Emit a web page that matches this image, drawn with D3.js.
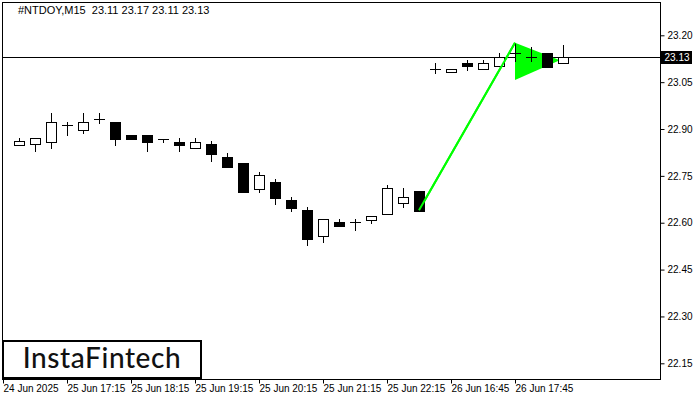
<!DOCTYPE html>
<html><head><meta charset="utf-8">
<script src="https://cdn.jsdelivr.net/npm/d3@7"></script>
<style>body{margin:0;background:#fff}svg{display:block}</style>
</head><body>
<svg id="c" width="700" height="400"></svg>
<script>
const title = "#NTDOY,M15  23.11 23.17 23.11 23.13";
const opens  = [22.85,22.851,22.86,22.913,22.898,22.931,22.922,22.881,22.881,22.869,22.86,22.84,22.852,22.81,22.791,22.709,22.73,22.673,22.641,22.559,22.603,22.603,22.61,22.629,22.662,22.702,23.092,23.082,23.111,23.091,23.102,23.143,23.13,23.143,23.11];
const highs  = [22.871,22.871,22.951,22.922,22.951,22.951,22.922,22.881,22.881,22.869,22.871,22.871,22.861,22.823,22.791,22.762,22.74,22.682,22.651,22.612,22.612,22.612,22.622,22.721,22.711,22.702,23.111,23.091,23.121,23.121,23.143,23.176,23.163,23.143,23.17];
const lows   = [22.85,22.83,22.84,22.88,22.888,22.919,22.85,22.869,22.83,22.86,22.83,22.84,22.799,22.779,22.699,22.698,22.661,22.639,22.53,22.539,22.591,22.578,22.60,22.629,22.65,22.639,23.08,23.082,23.09,23.091,23.102,23.119,23.119,23.10,23.11];
const closes = [22.861,22.871,22.922,22.913,22.921,22.931,22.869,22.869,22.86,22.869,22.85,22.86,22.821,22.779,22.699,22.753,22.68,22.648,22.549,22.612,22.591,22.603,22.622,22.711,22.682,22.639,23.092,23.091,23.101,23.11,23.13,23.143,23.13,23.10,23.13];
const yTicks = [23.20,23.05,22.90,22.75,22.60,22.45,22.30,22.15];
const xTickIdx = [-1,3,7,11,15,19,23,27,31];
const xTickLabels = ["24 Jun 2025","25 Jun 17:15","25 Jun 18:15","25 Jun 19:15","25 Jun 20:15","25 Jun 21:15","25 Jun 22:15","26 Jun 16:45","26 Jun 17:45"];
const currentPrice = 23.13;
const flagPole = [{i:25, v:22.64},{i:31, v:23.176}];
const pennant = [{i:31, v:23.176},{i:33.8, v:23.12},{i:31, v:23.057}];

const svg = d3.select("#c");
const x = d3.scaleLinear().domain([0,34]).range([19,563]);
const y = d3.scaleLinear().domain([22.15,23.20]).range([363.3,35.3]);
const L=2.5, R=660.5, T=2.5, B=379.5;
const font = "'Liberation Sans', Arial, sans-serif";

// frame
svg.append("rect").attr("x",L).attr("y",T).attr("width",R-L).attr("height",B-T)
  .attr("fill","none").attr("stroke","#000").attr("stroke-width",1);

// y axis
const yAx = svg.append("g").attr("transform",`translate(${R},0)`)
  .call(d3.axisRight(y).tickValues(yTicks).tickSize(4).tickPadding(3).tickFormat(d3.format(".2f")));
yAx.select(".domain").remove();
yAx.selectAll("text").attr("font-family",font).attr("font-size",10).attr("fill","#000");
yAx.selectAll("line").attr("stroke","#000");

// x axis
const xAx = svg.append("g").attr("transform",`translate(0,${B})`)
  .call(d3.axisBottom(x).tickValues(xTickIdx).tickSize(4).tickFormat((d,k)=>xTickLabels[k]));
xAx.select(".domain").remove();
xAx.selectAll("text").attr("font-family",font).attr("font-size",10).attr("fill","#000")
  .attr("text-anchor","start").attr("dy","0.9em").attr("y",3);
xAx.selectAll("line").attr("stroke","#000");

// title
svg.append("text").attr("x",18).attr("y",14).attr("font-family",font).attr("font-size",11)
  .attr("fill","#000").attr("xml:space","preserve").style("white-space","pre").text(title);

// current price line
const cpY = Math.round(y(currentPrice));
svg.append("line").attr("x1",L).attr("x2",R).attr("y1",cpY+0.5).attr("y2",cpY+0.5)
  .attr("stroke","#000").attr("stroke-width",1);
svg.append("rect").attr("x",R+0.5).attr("y",cpY-6).attr("width",31).attr("height",13).attr("fill","#000");
svg.append("text").attr("x",R+4).attr("y",cpY+4).attr("font-family",font).attr("font-size",10)
  .attr("fill","#fff").text(currentPrice.toFixed(2));

// pattern (under candles)
svg.append("path").attr("d",d3.line().x(p=>x(p.i)).y(p=>y(p.v))(flagPole))
  .attr("stroke","#00ff00").attr("stroke-width",2).attr("fill","none");
svg.append("path").attr("d",d3.line().x(p=>x(p.i)).y(p=>y(p.v))(pennant)+"Z")
  .attr("fill","#00ff00").attr("stroke","none");

// candles
const data = opens.map((o,i)=>({i,o,h:highs[i],l:lows[i],c:closes[i]}));
const g = svg.append("g");
const bw = 11;
data.forEach(d=>{
  const cx = Math.round(x(d.i))+0.5;
  g.append("line").attr("x1",cx).attr("x2",cx).attr("y1",Math.round(y(d.h))).attr("y2",Math.round(y(d.l))+1)
    .attr("stroke","#000").attr("stroke-width",1);
  const top = Math.round(y(Math.max(d.o,d.c))), bot = Math.round(y(Math.min(d.o,d.c)));
  const bull = d.c >= d.o;
  if (bot - top < 1) {
    g.append("line").attr("x1",cx-bw/2).attr("x2",cx+bw/2).attr("y1",top+0.5).attr("y2",top+0.5).attr("stroke","#000");
  } else {
    g.append("rect").attr("x",cx-bw/2+0.5).attr("y",top+0.5).attr("width",bw-1).attr("height",bot-top)
      .attr("fill",bull?"#fff":"#000").attr("stroke","#000").attr("stroke-width",1);
  }
});
// flag pole drawn over the last bearish candle as in reference
svg.append("path").attr("d",d3.line().x(p=>x(p.i)).y(p=>y(p.v))(flagPole))
  .attr("stroke","#00ff00").attr("stroke-width",2).attr("fill","none");

// logo
svg.append("rect").attr("x",3).attr("y",341).attr("width",198).attr("height",37)
  .attr("fill","#fff").attr("stroke","#000").attr("stroke-width",2);
svg.append("text").attr("x",102).attr("y",368).attr("text-anchor","middle")
  .attr("font-family","Lato, 'Open Sans', sans-serif").attr("font-size",28).attr("font-weight",500)
  .attr("letter-spacing",0.6).attr("fill","#111")
  .text("InstaFintech");
</script>
</body></html>
